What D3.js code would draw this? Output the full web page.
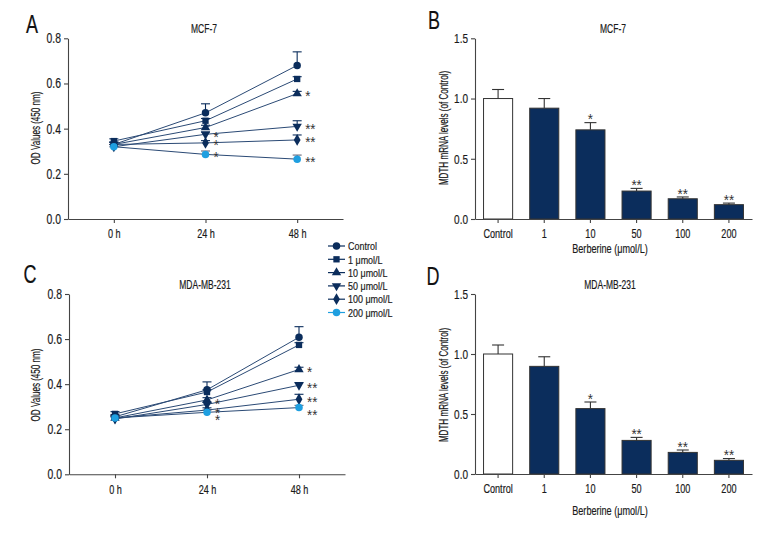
<!DOCTYPE html>
<html><head><meta charset="utf-8">
<script src="https://cdn.jsdelivr.net/npm/d3@7"></script>
<style>
body{margin:0;background:#fff;}
svg text{font-family:"Liberation Sans",Arial,sans-serif;}
</style></head>
<body><svg id="c" width="780" height="540"></svg>
<script>
// ---------- data ----------
const timePoints = ["0 h", "24 h", "48 h"];
const seriesNames = ["Control", "1 μmol/L", "10 μmol/L", "50 μmol/L", "100 μmol/L", "200 μmol/L"];
const yTicksOD = [0.0, 0.2, 0.4, 0.6, 0.8];
const yTicksMRNA = [0.0, 0.5, 1.0, 1.5];

// Panel A  (MCF-7, OD values)
const mcfControl = [0.33, 0.470, 0.680];
const mcf1 = [0.345, 0.435, 0.620];
const mcf10 = [0.330, 0.405, 0.555];
const mcf50 = [0.320, 0.375, 0.410];
const mcf100 = [0.330, 0.337, 0.350];
const mcf200 = [0.320, 0.286, 0.265];
const mcfErr = [[0.01, 0.04, 0.06], [0.01, 0.01, 0.01], [0.01, 0.01, 0.01], [0.01, 0.01, 0.025], [0.01, 0.01, 0.022], [0.01, 0.015, 0.018]];
const mcfStars = [["", "", ""], ["", "", ""], ["", "", "*"], ["", "*", "**"], ["", "*", "**"], ["", "*", "**"]];

// Panel C  (MDA-MB-231, OD values)
const mdaControl = [0.255, 0.375, 0.608];
const mda1 = [0.268, 0.365, 0.574];
const mda10 = [0.250, 0.330, 0.465];
const mda50 = [0.245, 0.310, 0.395];
const mda100 = [0.250, 0.285, 0.333];
const mda200 = [0.250, 0.275, 0.296];
const mdaErr = [[0.01, 0.035, 0.047], [0.01, 0.01, 0.01], [0.01, 0.01, 0.01], [0.01, 0.01, 0.012], [0.01, 0.01, 0.022], [0.01, 0.01, 0.01]];
const mdaStars = [["", "", ""], ["", "", ""], ["", "", "*"], ["", "*", "**"], ["", "*", "**"], ["", "*", "**"]];

// Panels B and D (MDTH mRNA levels)
const doseCategories = ["Control", "1", "10", "50", "100", "200"];
const mcfMRNA = [1.0, 0.92, 0.74, 0.232, 0.168, 0.119];
const mcfMRNAErr = [0.075, 0.08, 0.06, 0.022, 0.015, 0.013];
const mdaMRNA = [1.0, 0.897, 0.545, 0.28, 0.18, 0.114];
const mdaMRNAErr = [0.075, 0.08, 0.055, 0.025, 0.02, 0.015];
const barStars = ["", "", "*", "**", "**", "**"];

// ---------- style ----------
const navy = "#0b2d5c", lightBlue = "#1f9fe0", axisCol = "#444", txtCol = "#1a1a1a";
const FONT = '"Liberation Sans",Arial,sans-serif';
const symbols = [d3.symbolCircle, d3.symbolSquare, d3.symbolTriangle, d3.symbolTriangle, d3.symbolDiamond, d3.symbolCircle];
const symRot = [0, 0, 0, 180, 0, 0];
const symSize = [44, 40, 38, 38, 40, 44];
const symFill = [navy, navy, navy, navy, navy, lightBlue];

const svg = d3.select("#c");

function styleAxis(g, fs, cls){
  g.selectAll("path.domain").attr("stroke", axisCol).attr("stroke-width", 1.1);
  g.selectAll(".tick line").attr("stroke", axisCol).attr("stroke-width", 1.1);
  g.selectAll(".tick text").attr("font-size", fs).attr("fill", txtCol).attr("font-family", FONT).attr("class", cls);
}

function panelLabels(letter, lx, ly, title, tx, ty, ylab, yx, yy, xlab, xx, xy){
  svg.append("text").attr("class", "letter").attr("x", lx).attr("y", ly).attr("font-size", 25).attr("fill", "#111").attr("text-anchor", "middle").text(letter);
  svg.append("text").attr("class", "title").attr("x", tx).attr("y", ty).attr("font-size", 12.5).attr("fill", txtCol).attr("text-anchor", "middle").text(title);
  svg.append("text").attr("class", "ylab").attr("transform", `translate(${yx},${yy}) rotate(-90)`).attr("font-size", 13).attr("fill", txtCol)
     .attr("text-anchor", "middle").text(ylab);
  if (xlab) svg.append("text").attr("class", "xlab").attr("x", xx).attr("y", xy).attr("font-size", 13).attr("fill", txtCol).attr("text-anchor", "middle").text(xlab);
}

function linePanel(series, errs, stars, starShift, x0, x1, yBottom, yTop){
  const x = d3.scalePoint().domain(timePoints).range([x0, x1]).padding(0.5);
  const y = d3.scaleLinear().domain([0, 0.8]).range([yBottom, yTop]);
  const gx = svg.append("g").attr("transform", `translate(0,${yBottom})`)
     .call(d3.axisBottom(x).tickSize(4).tickSizeOuter(0).tickPadding(6));
  styleAxis(gx, 13, "xtick");
  const gy = svg.append("g").attr("transform", `translate(${x0},0)`)
     .call(d3.axisLeft(y).tickValues(yTicksOD).tickFormat(d3.format(".1f")).tickSize(4).tickSizeOuter(0).tickPadding(3));
  styleAxis(gy, 14, "ytick");
  const line = d3.line().x((d, i) => x(timePoints[i])).y(d => y(d));
  series.forEach((s) => {
    svg.append("path").datum(s).attr("d", line).attr("fill", "none")
       .attr("stroke", "#2b4a75").attr("stroke-width", 1);
  });
  series.forEach((s, k) => {
    s.forEach((v, i) => {
      const cx = x(timePoints[i]);
      const top = y(v + errs[k][i]);
      const col = k === 5 ? "#667" : navy;
      svg.append("line").attr("x1", cx).attr("x2", cx).attr("y1", y(v)).attr("y2", top).attr("stroke", col).attr("stroke-width", 1.1);
      svg.append("line").attr("x1", cx - 4.5).attr("x2", cx + 4.5).attr("y1", top).attr("y2", top).attr("stroke", col).attr("stroke-width", 1.1);
    });
  });
  series.forEach((s, k) => {
    s.forEach((v, i) => {
      svg.append("path").attr("d", d3.symbol().type(symbols[k]).size(symSize[k])())
         .attr("transform", `translate(${x(timePoints[i])},${y(v)}) rotate(${symRot[k]})`)
         .attr("fill", symFill[k]);
    });
  });
  series.forEach((s, k) => {
    s.forEach((v, i) => {
      const st = stars[k][i];
      if (!st) return;
      const shift = (starShift[k] && starShift[k][i]) || 0;
      svg.append("text").attr("class", "star").attr("x", x(timePoints[i]) + 8).attr("y", y(v) + 7.5 + shift)
         .attr("font-size", 14).attr("fill", "#333").text(st);
    });
  });
}

function barPanel(vals, errs, x0, x1, yBottom, yTop){
  const x = d3.scaleBand().domain(doseCategories).range([x0, x1]).paddingInner(0.37).paddingOuter(0.185);
  const y = d3.scaleLinear().domain([0, 1.5]).range([yBottom, yTop]);
  vals.forEach((v, i) => {
    svg.append("rect").attr("x", x(doseCategories[i])).attr("width", x.bandwidth())
       .attr("y", y(v)).attr("height", y(0) - y(v))
       .attr("fill", i === 0 ? "#fff" : navy).attr("stroke", "#333").attr("stroke-width", 1);
  });
  vals.forEach((v, i) => {
    const cx = x(doseCategories[i]) + x.bandwidth() / 2;
    const top = y(v + errs[i]);
    svg.append("line").attr("x1", cx).attr("x2", cx).attr("y1", y(v)).attr("y2", top).attr("stroke", "#333").attr("stroke-width", 1.1);
    svg.append("line").attr("x1", cx - 6).attr("x2", cx + 6).attr("y1", top).attr("y2", top).attr("stroke", "#333").attr("stroke-width", 1.1);
    if (barStars[i]) svg.append("text").attr("class", "star").attr("x", cx).attr("y", top + 1.8).attr("text-anchor", "middle")
       .attr("font-size", 14).attr("fill", "#333").text(barStars[i]);
  });
  const gx = svg.append("g").attr("transform", `translate(0,${yBottom})`)
     .call(d3.axisBottom(x).tickSize(4).tickSizeOuter(0).tickPadding(6));
  styleAxis(gx, 13, "xtick");
  const gy = svg.append("g").attr("transform", `translate(${x0},0)`)
     .call(d3.axisLeft(y).tickValues(yTicksMRNA).tickFormat(d3.format(".1f")).tickSize(4).tickSizeOuter(0).tickPadding(3));
  styleAxis(gy, 13.5, "ytick");
}

// Panel A
panelLabels("A", 32, 33, "MCF-7", 204, 33, "OD Values (450 nm)", 40, 128);
linePanel([mcfControl, mcf1, mcf10, mcf50, mcf100, mcf200], mcfErr, mcfStars, [], 68, 343, 219, 38.3);
// Panel C
panelLabels("C", 30, 283, "MDA-MB-231", 205, 289, "OD Values (450 nm)", 40, 385);
linePanel([mdaControl, mda1, mda10, mda50, mda100, mda200], mdaErr, mdaStars,
  [[], [], [], [0, -2.5, 0], [0, 0, 0], [0, 5.5, 5]], 69, 345, 474.3, 294);
// Panel B
panelLabels("B", 434, 29, "MCF-7", 613, 33, "MDTH mRNA levels (of Control)", 448, 128, "Berberine (μmol/L)", 610, 253);
barPanel(mcfMRNA, mcfMRNAErr, 475, 752, 219, 38.3);
// Panel D
panelLabels("D", 433, 285, "MDA-MB-231", 610, 289, "MDTH mRNA levels (of Control)", 448, 385, "Berberine (μmol/L)", 610, 515);
barPanel(mdaMRNA, mdaMRNAErr, 475, 752, 474, 294);

// Legend
const leg = svg.append("g").attr("transform", "translate(328,246)");
seriesNames.forEach((n, k) => {
  const g = leg.append("g").attr("transform", `translate(0,${k * 13.3})`);
  g.append("line").attr("x1", 0).attr("x2", 17).attr("stroke", symFill[k]).attr("stroke-width", 1.2);
  g.append("path").attr("d", d3.symbol().type(symbols[k]).size(symSize[k])())
   .attr("transform", `translate(8.5,0) rotate(${symRot[k]})`).attr("fill", symFill[k]);
  g.append("text").attr("class", "legend").attr("x", 20).attr("y", 4.2).attr("font-size", 11.8).attr("fill", txtCol).text(n);
});

// condensed lettering (the original uses a condensed face)
const condense = {star: 0.95, ylab: 0.62, xlab: 0.7, title: 0.68, letter: 0.72, xtick: 0.7, ytick: 0.74, legend: 0.76};
svg.selectAll("text").each(function(){
  const len = this.getComputedTextLength();
  const f = condense[this.getAttribute("class")] || 0.72;
  if (len > 0) d3.select(this).attr("textLength", len * f).attr("lengthAdjust", "spacingAndGlyphs");
  if (this.getAttribute("class") !== "star") d3.select(this).attr("stroke", "#1a1a1a").attr("stroke-width", 0.2);
});
</script></body></html>
